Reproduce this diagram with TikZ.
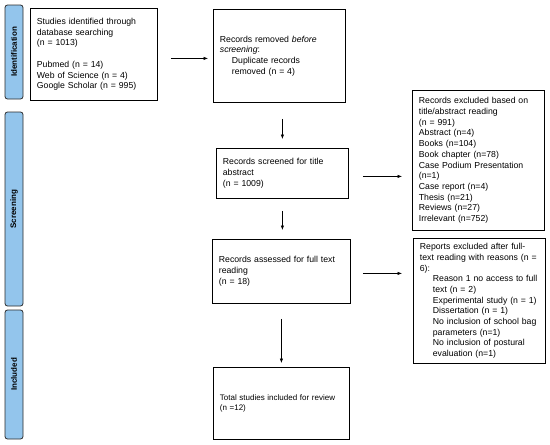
\documentclass[tikz,border=0pt]{standalone}
\usepackage{fontspec}
\setmainfont{Liberation Sans}
\usetikzlibrary{arrows.meta,positioning}
\definecolor{tabfill}{HTML}{93C5EC}
\definecolor{tabline}{HTML}{2B2B2B}
\hyphenpenalty=10000

\begin{document}
\begin{tikzpicture}[x=1pt,y=-1pt,
  box/.style={draw,line width=0.8pt,anchor=north west,align=left,inner xsep=6.5pt,inner ysep=2pt,font=\fontsize{8.7}{10.7}\selectfont},
  tab/.style={draw=tabline,fill=tabfill,rounded corners=2.5pt,line width=0.8pt,rotate=90,minimum height=18pt,inner sep=0pt,font=\bfseries\fontsize{8}{9}\selectfont},
  arr/.style={-{Latex[length=4.5pt,width=3.4pt]},line width=0.5pt}]
\useasboundingbox (0,0) rectangle (550,445);
\node[tab,minimum width=94pt] (tabid) at (14,52) {Identification};
\node[tab,minimum width=194pt] (tabscr) at (14,209) {Screening};
\node[tab,minimum width=129pt] (tabinc) at (14,374.5) {Included};
\node[box,minimum width=127pt,text width=114pt,minimum height=92pt] (ident) at (30,8) {Studies identified through\\database searching\\(n = 1013)\\[10.7pt]Pubmed (n = 14)\\Web of Science (n = 4)\\Google Scholar (n = 995)};
\node[box,minimum width=132pt,text width=119pt,minimum height=93pt] (removed) at (213,9) {Records removed \textit{before}\\\textit{screening}:\\\hspace*{12pt}Duplicate records\\\hspace*{12pt}removed (n = 4)};
\node[box,minimum width=132pt,text width=119pt,minimum height=50pt] (screened) at (216,148) {Records screened for title\\abstract\\(n = 1009)};
\node[box,minimum width=138pt,text width=125pt,minimum height=64pt] (assessed) at (212,239) {Records assessed for full text\\reading\\(n = 18)};
\node[box,minimum width=136pt,text width=123pt,minimum height=72pt,font=\fontsize{8}{10.7}\selectfont] (included) at (213,367) {Total studies included for review\\(n =12)};
\node[box,minimum width=132pt,text width=119pt,minimum height=140pt] (exclone) at (412,90) {Records excluded based on\\title/abstract reading\\(n = 991)\\Abstract (n=4)\\Books (n=104)\\Book chapter (n=78)\\Case Podium Presentation\\(n=1)\\Case report (n=4)\\Thesis (n=21)\\Reviews (n=27)\\Irrelevant (n=752)};
\node[box,minimum width=132pt,text width=119pt,minimum height=125pt] (excltwo) at (413,238) {Reports excluded after full-\\text reading with reasons (n =\\6):\\\hspace*{13pt}Reason 1 no access to full\\\hspace*{13pt}text (n = 2)\\\hspace*{13pt}Experimental study (n = 1)\\\hspace*{13pt}Dissertation (n = 1)\\\hspace*{13pt}No inclusion of school bag\\\hspace*{13pt}parameters (n=1)\\\hspace*{13pt}No inclusion of postural\\\hspace*{13pt}evaluation (n=1)};
\draw[arr,shorten <=13pt,shorten >=5pt] ([yshift=-4pt]ident.east) -- ([yshift=-4pt]ident.east -| removed.west);
\draw[arr,shorten <=16pt,shorten >=9pt] (removed.south -| screened.north) -- (screened.north);
\draw[arr,shorten <=12pt,shorten >=9pt] (screened.south) -- (screened.south |- assessed.north);
\draw[arr,shorten <=15pt,shorten >=4pt] (assessed.south) -- (assessed.south |- included.north);
\draw[arr,shorten <=14pt,shorten >=10pt] ([yshift=-3pt]screened.east) -- ([yshift=-3pt]screened.east -| exclone.west);
\draw[arr,shorten <=12pt,shorten >=11pt] ([yshift=-2pt]assessed.east) -- ([yshift=-2pt]assessed.east -| excltwo.west);
\end{tikzpicture}
\end{document}
